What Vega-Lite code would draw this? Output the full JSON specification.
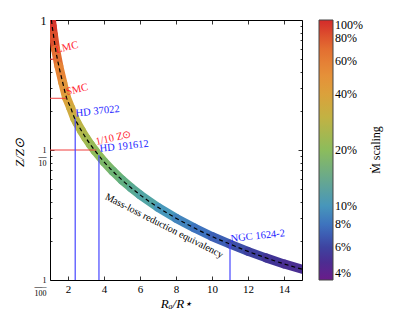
{
  "$schema": "https://vega.github.io/schema/vega-lite/v6.json",
  "width": 252,
  "height": 260,
  "autosize": {"type": "none"},
  "padding": {"left": 50, "top": 20, "right": 97, "bottom": 48},
  "config": {
    "font": "Liberation Serif",
    "view": {"stroke": "black", "strokeWidth": 1},
    "axis": {
      "domain": false,
      "grid": false,
      "labelFont": "Liberation Serif",
      "titleFont": "Liberation Serif",
      "tickColor": "black",
      "labelColor": "black",
      "titleColor": "black",
      "tickWidth": 0.8
    }
  },
  "datasets": {
    "curve": [
      {"R": 1.08, "Z": 1, "f": 1},
      {"R": 1.12, "Z": 0.9, "f": 0.93},
      {"R": 1.19, "Z": 0.77, "f": 0.835},
      {"R": 1.31, "Z": 0.595, "f": 0.699},
      {"R": 1.49, "Z": 0.443, "f": 0.57},
      {"R": 1.71, "Z": 0.329, "f": 0.464},
      {"R": 1.92, "Z": 0.252, "f": 0.386},
      {"R": 2.15, "Z": 0.211, "f": 0.342},
      {"R": 2.37, "Z": 0.175, "f": 0.3},
      {"R": 2.5, "Z": 0.1616, "f": 0.2843},
      {"R": 2.75, "Z": 0.1404, "f": 0.258},
      {"R": 3, "Z": 0.1235, "f": 0.2362},
      {"R": 3.25, "Z": 0.1099, "f": 0.2179},
      {"R": 3.5, "Z": 0.0987, "f": 0.2023},
      {"R": 4, "Z": 0.0812, "f": 0.1769},
      {"R": 4.5, "Z": 0.0685, "f": 0.1573},
      {"R": 5, "Z": 0.0588, "f": 0.1416},
      {"R": 5.5, "Z": 0.0513, "f": 0.1288},
      {"R": 6, "Z": 0.0452, "f": 0.1181},
      {"R": 7, "Z": 0.0362, "f": 0.1013},
      {"R": 8, "Z": 0.0299, "f": 0.0887},
      {"R": 9, "Z": 0.0252, "f": 0.0789},
      {"R": 10, "Z": 0.0216, "f": 0.071},
      {"R": 11, "Z": 0.0189, "f": 0.0646},
      {"R": 12, "Z": 0.0166, "f": 0.0592},
      {"R": 13, "Z": 0.0148, "f": 0.0547},
      {"R": 14, "Z": 0.0133, "f": 0.0508},
      {"R": 15, "Z": 0.0121, "f": 0.0474}
    ],
    "refs": [
      {"name": "LMC", "R": 1.2, "Z": 0.5},
      {"name": "SMC", "R": 1.91, "Z": 0.25},
      {"name": "1/10", "R": 3.58, "Z": 0.1}
    ],
    "stars": [
      {"name": "HD 37022", "R": 2.4, "Z": 0.175},
      {"name": "HD 191612", "R": 3.72, "Z": 0.0916},
      {"name": "NGC 1624-2", "R": 11.0, "Z": 0.0192}
    ],
    "redLabels": [
      {"label": "LMC", "R": 1.33, "Z": 0.588},
      {"label": "SMC", "R": 1.91, "Z": 0.279},
      {"label": "1/10 Z⊙", "R": 3.54, "Z": 0.115}
    ],
    "blueLabels": [
      {"label": "HD 37022", "R": 2.43, "Z": 0.191},
      {"label": "HD 191612", "R": 3.76, "Z": 0.102},
      {"label": "NGC 1624-2", "R": 11.04, "Z": 0.0207}
    ],
    "curveLabel": [
      {"label": "Mass-loss reduction equivalency", "R": 4.1, "Z": 0.0443}
    ]
  },
  "resolve": {"axis": {"x": "independent", "y": "independent"}},
  "layer": [
    {
      "data": {"name": "curve"},
      "transform": [
        {"window": [{"op": "lead", "field": "R", "as": "R2"}, {"op": "lead", "field": "Z", "as": "Z2"}], "sort": [{"field": "R"}]},
        {"filter": "datum.R2 != null"}
      ],
      "mark": {"type": "rule", "strokeWidth": 9, "strokeCap": "round", "clip": true},
      "encoding": {
        "x": {
          "field": "R", "type": "quantitative",
          "scale": {"domain": [1, 15], "nice": false, "zero": false},
          "axis": {
            "orient": "bottom",
            "values": [2, 4, 6, 8, 10, 12, 14],
            "tickSize": -4,
            "labelPadding": 7,
            "labelFontSize": 11,
            "labelFlush": false,
            "title": "Rₐ/R⋆",
            "titleFontSize": 13,
            "titleFontStyle": "italic",
            "titleFontWeight": "normal",
            "titlePadding": 3
          }
        },
        "x2": {"field": "R2"},
        "y": {
          "field": "Z", "type": "quantitative",
          "scale": {"type": "log", "domain": [0.01, 1], "nice": false},
          "axis": {
            "orient": "left",
            "values": [0.01, 0.02, 0.03, 0.04, 0.05, 0.06, 0.07, 0.08, 0.09, 0.1, 0.2, 0.3, 0.4, 0.5, 0.6, 0.7, 0.8, 0.9, 1],
            "tickSize": -4,
            "tickDash": {"condition": {"test": "datum.value == 1 || datum.value == 0.1 || datum.value == 0.01", "value": [4, 0]}, "value": [2, 6]},
            "labelExpr": "datum.value == 1 ? '1' : datum.value == 0.1 ? ['1\u00a0', '—', '10'] : datum.value == 0.01 ? ['1\u00a0\u00a0', '—–', '100'] : ''",
            "labelFontSize": {"condition": {"test": "datum.value == 1", "value": 12}, "value": 8},
            "labelLineHeight": 6.5,
            "labelPadding": 8,
            "labelBaseline": "middle",
            "labelAlign": "right",
            "labelOverlap": false,
            "labelFlush": false,
            "title": "Z/Z⊙",
            "titleFontSize": 13,
            "titleFontStyle": "italic",
            "titleFontWeight": "normal",
            "titleX": -24,
            "titleY": 132,
            "titleAngle": 270,
            "titleAlign": "center",
            "titleBaseline": "bottom"
          }
        },
        "y2": {"field": "Z2"},
        "color": {
          "field": "f", "type": "quantitative",
          "scale": {
            "type": "log",
            "domain": [0.04, 1],
            "interpolate": "rgb",
            "range": ["#6a1c8a", "#3f3495", "#3c6cbe", "#499ebb", "#63b07e", "#8cbc5c", "#bab646", "#d9a53c", "#e78d38", "#e26a30", "#d42a2a"]
          },
          "legend": {
            "orient": "right",
            "offset": 16,
            "padding": 0,
            "direction": "vertical",
            "gradientLength": 260,
            "gradientThickness": 14,
            "gradientStrokeColor": "#444",
            "gradientStrokeWidth": 1,
            "values": [0.04, 0.06, 0.08, 0.1, 0.2, 0.4, 0.6, 0.8, 1],
            "format": ".0%",
            "labelFont": "Liberation Serif",
            "labelFontSize": 12,
            "labelOffset": 2,
            "labelOverlap": false,
            "labelColor": "black",
            "title": "Ṁ scaling",
            "titleOrient": "right",
            "titleAnchor": "middle",
            "titleFont": "Liberation Serif",
            "titleFontSize": 12,
            "titleFontWeight": "normal",
            "titlePadding": 8,
            "titleColor": "black",
            "encode": {"title": {"update": {"angle": {"value": 270}, "baseline": {"value": "top"}}}}
          }
        }
      }
    },
    {
      "data": {"name": "curve"},
      "mark": {"type": "line", "color": "black", "strokeWidth": 1.2, "strokeDash": [4, 3], "interpolate": "monotone", "clip": true},
      "encoding": {
        "x": {
          "field": "R", "type": "quantitative",
          "axis": {"orient": "top", "values": [2, 4, 6, 8, 10, 12, 14], "tickSize": -4, "labels": false, "title": null}
        },
        "y": {
          "field": "Z", "type": "quantitative",
          "axis": {
            "orient": "right",
            "values": [0.01, 0.02, 0.03, 0.04, 0.05, 0.06, 0.07, 0.08, 0.09, 0.1, 0.2, 0.3, 0.4, 0.5, 0.6, 0.7, 0.8, 0.9, 1],
            "tickSize": -4,
            "tickDash": {"condition": {"test": "datum.value == 1 || datum.value == 0.1 || datum.value == 0.01", "value": [4, 0]}, "value": [2, 6]},
            "labels": false,
            "title": null
          }
        }
      }
    },
    {
      "data": {"name": "refs"},
      "mark": {"type": "rule", "color": "#f03c3c", "strokeWidth": 1},
      "encoding": {
        "x": {"field": "R", "type": "quantitative", "axis": null},
        "x2": {"datum": 1},
        "y": {"field": "Z", "type": "quantitative", "axis": null}
      }
    },
    {
      "data": {"name": "stars"},
      "mark": {"type": "rule", "color": "#4646ff", "strokeWidth": 1.2},
      "encoding": {
        "x": {"field": "R", "type": "quantitative", "axis": null},
        "y": {"field": "Z", "type": "quantitative", "axis": null},
        "y2": {"datum": 0.01}
      }
    },
    {
      "data": {"name": "redLabels"},
      "mark": {"type": "text", "align": "left", "baseline": "middle", "angle": -13, "color": "#ff1a2e", "fontSize": 10.5, "font": "Liberation Serif"},
      "encoding": {
        "x": {"field": "R", "type": "quantitative", "axis": null},
        "y": {"field": "Z", "type": "quantitative", "axis": null},
        "text": {"field": "label"}
      }
    },
    {
      "data": {"name": "blueLabels"},
      "mark": {"type": "text", "align": "left", "baseline": "middle", "angle": -6, "color": "#1e1eff", "fontSize": 10.5, "font": "Liberation Serif"},
      "encoding": {
        "x": {"field": "R", "type": "quantitative", "axis": null},
        "y": {"field": "Z", "type": "quantitative", "axis": null},
        "text": {"field": "label"}
      }
    },
    {
      "data": {"name": "curveLabel"},
      "mark": {"type": "text", "align": "left", "baseline": "middle", "angle": 27, "color": "black", "fontSize": 10, "font": "Liberation Serif"},
      "encoding": {
        "x": {"field": "R", "type": "quantitative", "axis": null},
        "y": {"field": "Z", "type": "quantitative", "axis": null},
        "text": {"field": "label"}
      }
    }
  ]
}
